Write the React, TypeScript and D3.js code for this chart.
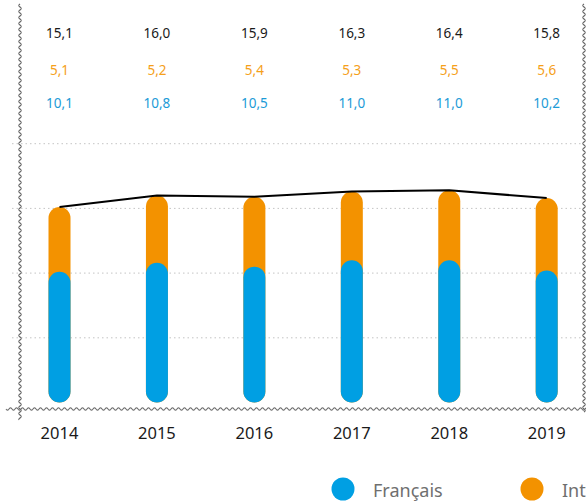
import React from "react";
import * as d3 from "d3";

const years = ["2014", "2015", "2016", "2017", "2018", "2019"];
const francais = [10.1, 10.8, 10.5, 11.0, 11.0, 10.2];
const international = [5.1, 5.2, 5.4, 5.3, 5.5, 5.6];
const totals = [15.1, 16.0, 15.9, 16.3, 16.4, 15.8];
const gridValues = [5, 10, 15, 20];
const legendItems = ["Français", "International"];

const BLUE = "#009fe3";
const ORANGE = "#f39200";
const FONT = "'Noto Sans', sans-serif";

function wavyPath(x1: number, y1: number, x2: number, y2: number, amp = 1.2, period = 6) {
  const len = Math.hypot(x2 - x1, y2 - y1);
  const ux = (x2 - x1) / len, uy = (y2 - y1) / len;
  const nx = -uy, ny = ux;
  const pts: [number, number][] = [];
  for (let s = 0; s <= len; s += 0.5) {
    const o = amp * Math.sin((s / period) * 2 * Math.PI);
    pts.push([x1 + ux * s + nx * o, y1 + uy * s + ny * o]);
  }
  return d3.line()(pts) || "";
}

export default function App() {
  const W = 586, H = 504;
  const x = d3.scalePoint<string>().domain(years).range([59.5, 546.7]);
  const y = d3.scaleLinear().domain([0, 20]).range([402.5, 143.7]);
  const barW = 22;
  const line = d3.line<number>().x((_, i) => x(years[i])!).y(d => y(d));

  return (
    <svg width={W} height={H} style={{ position: "absolute", left: 0, top: 0, display: "block" }}>
      {gridValues.map(v => (
        <line key={v} x1={12} x2={583} y1={y(v)} y2={y(v)} stroke="#c4c4c4" strokeWidth={1} strokeDasharray="1.5,3" />
      ))}
      <path d={wavyPath(20, 4, 20, 420)} fill="none" stroke="#6a6a6a" strokeWidth={1.1} />
      <path d={wavyPath(584, 4, 584, 412)} fill="none" stroke="#6a6a6a" strokeWidth={1.1} />
      <path d={wavyPath(6, 409, 586, 409)} fill="none" stroke="#6a6a6a" strokeWidth={1.1} />
      {years.map((yr, i) => {
        const cx = x(yr)!;
        return (
          <g key={yr}>
            <rect x={cx - barW / 2} y={y(totals[i])} width={barW} height={y(0) - y(totals[i])} rx={barW / 2} fill={ORANGE} />
            <rect x={cx - barW / 2} y={y(francais[i])} width={barW} height={y(0) - y(francais[i])} rx={barW / 2} fill={BLUE} />
            <text x={cx} y={38} textAnchor="middle" fontFamily={FONT} fontSize={13.5} fill="#1a1a1a">{totals[i].toFixed(1).replace(".", ",")}</text>
            <text x={cx} y={75} textAnchor="middle" fontFamily={FONT} fontSize={13.5} fill="#f5a01a">{international[i].toFixed(1).replace(".", ",")}</text>
            <text x={cx} y={108} textAnchor="middle" fontFamily={FONT} fontSize={13.5} fill="#1c9bd7">{francais[i].toFixed(1).replace(".", ",")}</text>
            <text x={cx} y={439} textAnchor="middle" fontFamily={FONT} fontSize={16.5} fill="#1a1a1a">{yr}</text>
          </g>
        );
      })}
      <path d={line(totals) || ""} fill="none" stroke="#000" strokeWidth={2} />
      {legendItems.map((name, i) => (
        <g key={name}>
          <circle cx={343 + i * 189} cy={489} r={11.5} fill={i === 0 ? BLUE : ORANGE} />
          <text x={373 + i * 189} y={497} fontFamily={FONT} fontSize={18} fill="#6f6f6f">{name}</text>
        </g>
      ))}
    </svg>
  );
}
